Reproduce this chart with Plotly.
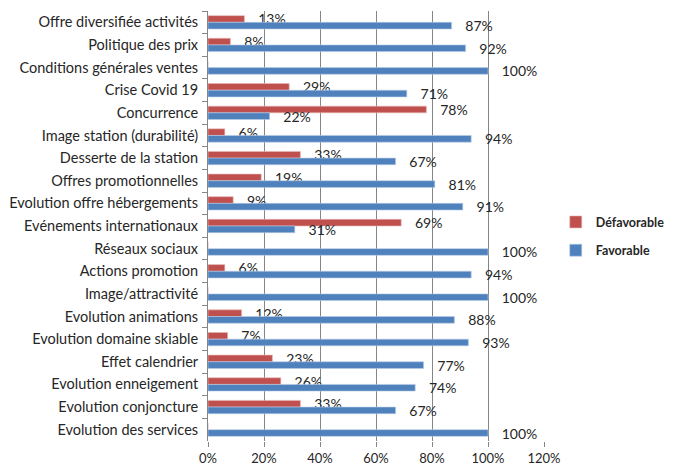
import plotly.graph_objects as go

categories = [
    "Offre diversifiée activités", "Politique des prix", "Conditions générales ventes",
    "Crise Covid 19", "Concurrence", "Image station (durabilité)", "Desserte de la station",
    "Offres promotionnelles", "Evolution offre hébergements", "Evénements internationaux",
    "Réseaux sociaux", "Actions promotion", "Image/attractivité", "Evolution animations",
    "Evolution domaine skiable", "Effet calendrier", "Evolution enneigement",
    "Evolution conjoncture", "Evolution des services",
]
defavorable = [13, 8, 0, 29, 78, 6, 33, 19, 9, 69, 0, 6, 0, 12, 7, 23, 26, 33, 0]
favorable = [87, 92, 100, 71, 22, 94, 67, 81, 91, 31, 100, 94, 100, 88, 93, 77, 74, 67, 100]
tick_vals = [0, 20, 40, 60, 80, 100, 120]
tick_text = ["0%", "20%", "40%", "60%", "80%", "100%", "120%"]

FONT = "Lato, 'Open Sans', sans-serif"
pad = "\u00a0\u00a0\u00a0"

def labels(vals):
    return [f"{pad}{v}%" if v else "" for v in vals]

fig = go.Figure()
fig.add_trace(go.Bar(
    y=categories, x=defavorable, name="Défavorable", orientation="h",
    legendgroup="d",
    marker=dict(color="#C0504D", line=dict(color="#E6B9B8", width=0.6)),
    text=labels(defavorable), textposition="outside", constraintext="none",
    cliponaxis=False, textfont=dict(size=14, color="#262626", family=FONT),
))
fig.add_trace(go.Bar(
    y=categories, x=favorable, name="Favorable", orientation="h",
    legendgroup="f",
    marker=dict(color="#4F81BD", line=dict(color="#B9CDE5", width=0.6)),
    text=labels(favorable), textposition="outside", constraintext="none",
    cliponaxis=False, textfont=dict(size=14, color="#262626", family=FONT),
))

fig.update_layout(
    width=673, height=465,
    margin=dict(l=208, r=129, t=11, b=24, autoexpand=False),
    barmode="group", bargap=0.41, bargroupgap=0.0,
    plot_bgcolor="white", paper_bgcolor="white",
    font=dict(family=FONT, size=14, color="#262626"),
    legend=dict(x=1.035, y=0.476, yanchor="middle", xanchor="left",
                font=dict(size=12.5, family=FONT, weight="bold", color="#262626"),
                traceorder="grouped", itemwidth=30, tracegroupgap=9),
    showlegend=True,
)
fig.update_xaxes(
    range=[0, 120], tickvals=tick_vals, ticktext=tick_text,
    showgrid=True, gridcolor="#868686", gridwidth=1,
    showline=False,
    ticks="outside", ticklen=5, tickcolor="#868686",
    tickfont=dict(size=13, family=FONT, color="#262626"),
    ticklabelstandoff=0, automargin=False,
    zeroline=False,
)
fig.update_yaxes(
    autorange="reversed", showline=True, linecolor="#868686",
    ticks="outside", ticklen=5, tickcolor="#868686", tickson="boundaries",
    tickfont=dict(size=14.5, family=FONT, color="#262626"),
    ticklabelstandoff=6, automargin=False,
    showgrid=False,
)
fig.write_html(
    "out.html",
    config={"displayModeBar": False},
    post_script="document.body.style.margin='0';document.body.style.overflow='hidden';",
)
